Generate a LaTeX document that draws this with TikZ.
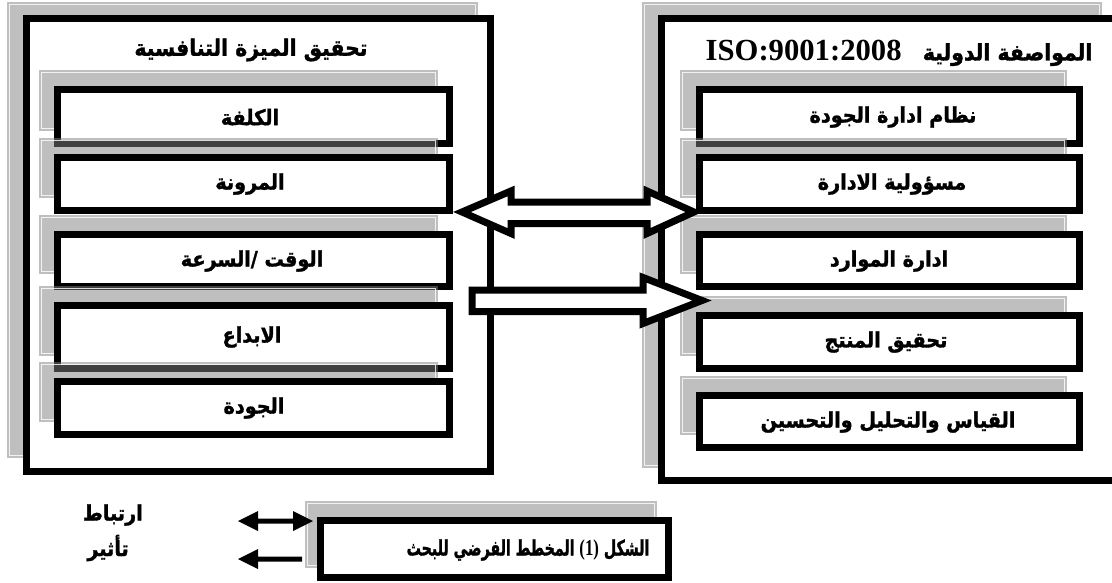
\documentclass[tikz,border=0pt]{standalone}
\usepackage{fontspec}
\usepackage{graphicx}
\newfontfamily\arabicfont[Script=Arabic,FakeBold=1.5,FakeStretch=0.9]{DejaVu Sans Bold}
\newfontfamily\isofont{Liberation Serif}
\TeXXeTstate=1
\definecolor{shfill}{RGB}{128,128,128}
\newcommand\shbox[4]{%
  \fill[shfill,fill opacity=0.5] (#1,#2) rectangle (#3,#4);
  \draw[white,opacity=0.8,line width=0.75pt] ({#1+2.5},{#2+2.5}) rectangle ({#3-2.5},{#4-2.5});}
\tikzset{
  frame/.style={draw=black,fill=white,line width=5.25pt,line join=miter},
  lbl/.style={font=\arabicfont\fontsize{16}{18}\selectfont,inner sep=0pt},
  ttl/.style={font=\arabicfont\fontsize{17}{19}\selectfont,inner sep=0pt},
  blockarrow/.style={draw=black,fill=white,line width=5.25pt,line join=miter},
  legarrow/.style={fill=black,draw=none}
}
\begin{document}
\begin{tikzpicture}[x=0.75pt,y=-0.75pt]
\clip (0,0) rectangle (1112,582);
\fill[white] (0,0) rectangle (1112,582);
% ---------- left panel ----------
\shbox{7}{2}{478}{458}
\draw[frame] (26.5,18.5) rectangle (490.5,471.5);
\node[ttl] (lt) at (251,50) {\beginR تحقيق الميزة التنافسية\endR};
\shbox{39}{70}{438}{131}
\draw[frame] (57.5,89.5) rectangle (449.5,143.5);
\shbox{39}{138}{438}{198}
\draw[frame] (57.5,157.5) rectangle (449.5,210.5);
\shbox{39}{215}{438}{274}
\draw[frame] (57.5,234.5) rectangle (449.5,286.5);
\shbox{39}{286}{438}{356}
\draw[frame] (57.5,305.5) rectangle (449.5,368.5);
\shbox{39}{362}{438}{422}
\draw[frame] (57.5,381.5) rectangle (449.5,434.5);
\node[lbl] (l1) at (250,117) {\beginR الكلفة\endR};
\node[lbl] (l2) at (250,184) {\beginR المرونة\endR};
\node[lbl] (l3) at (252,261) {\beginR الوقت /السرعة\endR};
\node[lbl] (l4) at (252,337) {\beginR الابداع\endR};
\node[lbl] (l5) at (254,408) {\beginR الجودة\endR};
% ---------- right panel ----------
\shbox{642}{2}{1102}{468}
\draw[frame] (661.5,18.5) rectangle (1121.5,480.5);
\node[ttl] (rt) at (899,53) {\beginR المواصفة الدولية\ \ \ \beginL{\isofont\bfseries\fontsize{23}{25}\selectfont ISO:9001:2008}\endL\endR};
\shbox{680}{70}{1067}{131}
\draw[frame] (699.5,89.5) rectangle (1079.5,143.5);
\shbox{680}{138}{1067}{198}
\draw[frame] (699.5,157.5) rectangle (1079.5,210.5);
\shbox{680}{215}{1067}{274}
\draw[frame] (699.5,234.5) rectangle (1079.5,286.5);
\shbox{680}{296}{1067}{356}
\draw[frame] (699.5,315.5) rectangle (1079.5,368.5);
\shbox{680}{376}{1067}{435}
\draw[frame] (699.5,395.5) rectangle (1079.5,447.5);
\node[lbl] (r1) at (893,117) {\beginR نظام ادارة الجودة\endR};
\node[lbl] (r2) at (892,184) {\beginR مسؤولية الادارة\endR};
\node[lbl] (r3) at (889,261) {\beginR ادارة الموارد\endR};
\node[lbl] (r4) at (886,342) {\beginR تحقيق المنتج\endR};
\node[lbl] (r5) at (888,422) {\beginR القياس والتحليل والتحسين\endR};
% ---------- block arrows ----------
\draw[blockarrow] (462,212) -- (511,191) -- (511,202) -- (647,202) -- (647,191)
  -- (694,212) -- (647,233.5) -- (647,223.5) -- (511,223.5) -- (511,233.5) -- cycle;
\draw[blockarrow] (472,290) -- (643,290) -- (643,277.5) -- (702,300.5)
  -- (643,323.5) -- (643,311.5) -- (472,311.5) -- cycle;
% ---------- caption ----------
\shbox{305}{501}{657}{568}
\draw[frame] (320.5,520.5) rectangle (668.5,577.5);
\node[lbl] (cap) at (528,550) {\resizebox{182pt}{\height}{\beginR الشكل \beginL{\isofont\bfseries\fontsize{17}{19}\selectfont(1)}\endL{} المخطط الفرضي للبحث\endR}};
% ---------- legend ----------
\fill[legarrow] (238,521) -- (258,511) -- (258,518.5) -- (293,518.5) -- (293,511)
  -- (313,521) -- (293,531) -- (293,523.5) -- (258,523.5) -- (258,531) -- cycle;
\fill[legarrow] (238,559) -- (258,549) -- (258,556.5) -- (302,556.5) -- (302,561.5)
  -- (258,561.5) -- (258,569) -- cycle;
\node[lbl,anchor=east] (g1) at (143,515) {\beginR ارتباط\endR};
\node[lbl,anchor=east] (g2) at (129,548) {\beginR تأثير\endR};
\end{tikzpicture}
\end{document}
